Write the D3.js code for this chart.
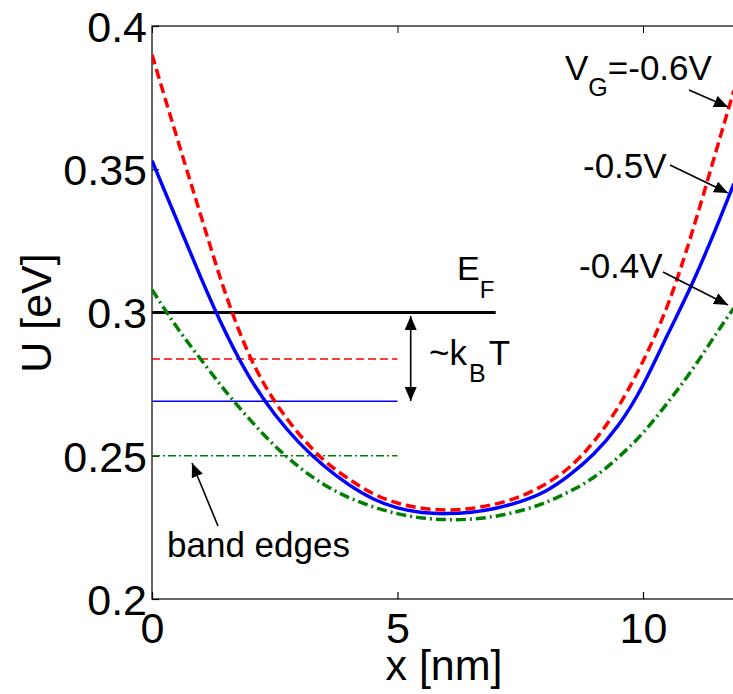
<!DOCTYPE html>
<html>
<head>
<meta charset="utf-8">
<script src="https://cdn.jsdelivr.net/npm/d3@7"></script>
<style>
  body { margin: 0; background: #fff; }
  svg { display: block; font-family: "Liberation Sans", Arial, sans-serif; }
</style>
</head>
<body>
<div id="chart"></div>
<script>
// x positions [nm] and band profiles U [eV]
const xNm = [0, 0.5, 1, 1.5, 2, 2.5, 3, 3.5, 4, 4.5, 5, 5.5, 6, 6.5, 7, 7.5, 8, 8.5, 9, 9.5, 10, 10.5, 11, 11.5, 11.85];
const uVg06 = [0.390, 0.3615, 0.3335, 0.3065, 0.2845, 0.2690, 0.2575, 0.2485, 0.2420, 0.2368, 0.2335, 0.2317, 0.2311, 0.2316, 0.2332, 0.2358, 0.2400, 0.2460, 0.2550, 0.2672, 0.2830, 0.3025, 0.3280, 0.3570, 0.3775];
const uVg05 = [0.353, 0.3325, 0.3120, 0.2930, 0.2770, 0.2645, 0.2545, 0.2465, 0.2400, 0.2350, 0.2318, 0.2302, 0.2298, 0.2303, 0.2317, 0.2340, 0.2375, 0.2432, 0.2507, 0.2607, 0.2747, 0.2922, 0.3100, 0.3300, 0.3450];
const uVg04 = [0.308, 0.2950, 0.2835, 0.2725, 0.2625, 0.2535, 0.2460, 0.2400, 0.2355, 0.2322, 0.2298, 0.2283, 0.2277, 0.2279, 0.2289, 0.2308, 0.2336, 0.2375, 0.2425, 0.2495, 0.2580, 0.2685, 0.2800, 0.2928, 0.3015];

// horizontal levels: Fermi level and the three band edges
const levelU = [0.3, 0.2838, 0.269, 0.25];
const levelEnd = [7, 5, 5, 5];

const xTicks = [0, 5, 10];
const yTicks = [0.2, 0.25, 0.3, 0.35, 0.4];

const width = 733, height = 694;
const mLeft = 152, mTop = 26, mBottom = 599;

const x = d3.scaleLinear().domain([0, 12]).range([mLeft, mLeft + 12 * 49.1]);
const y = d3.scaleLinear().domain([0.2, 0.4]).range([mBottom, mTop]);

const svg = d3.select("#chart").append("svg")
  .attr("width", width)
  .attr("height", height);

// arrow heads
const defs = svg.append("defs");
defs.append("marker")
  .attr("id", "head")
  .attr("markerUnits", "userSpaceOnUse")
  .attr("viewBox", "0 0 14 12")
  .attr("markerWidth", 14).attr("markerHeight", 12)
  .attr("refX", 14).attr("refY", 6)
  .attr("orient", "auto-start-reverse")
  .append("path").attr("d", "M0,0L14,6L0,12Z").attr("fill", "#000");

const clip = defs.append("clipPath").attr("id", "plot");
clip.append("rect").attr("x", mLeft).attr("y", mTop).attr("width", width - mLeft).attr("height", mBottom - mTop);

// frame
svg.append("rect")
  .attr("x", mLeft).attr("y", mTop)
  .attr("width", x(12) - mLeft).attr("height", mBottom - mTop)
  .attr("fill", "none").attr("stroke", "#000").attr("stroke-width", 1.2);

const xAxis = svg.append("g")
  .attr("transform", `translate(0,${mBottom})`)
  .call(d3.axisBottom(x).tickValues(xTicks).tickSize(-7).tickSizeOuter(0).tickPadding(13).tickFormat(d3.format("d")));
svg.append("g")
  .attr("transform", `translate(0,${mTop})`)
  .call(d3.axisTop(x).tickValues(xTicks).tickSize(-7).tickSizeOuter(0).tickFormat(""));
const yAxis = svg.append("g")
  .attr("transform", `translate(${mLeft},0)`)
  .call(d3.axisLeft(y).tickValues(yTicks).tickSize(-7).tickSizeOuter(0).tickPadding(5).tickFormat(d => String(+d.toFixed(2))));

[xAxis, yAxis].forEach(g => {
  g.selectAll("text").attr("font-size", 43).attr("font-family", "Liberation Sans, Arial, sans-serif").attr("fill", "#000");
  g.selectAll("line").attr("stroke-width", 1.2);
});
yAxis.selectAll("text").attr("dy", "0.36em");
svg.selectAll(".domain").remove();

// axis labels
svg.append("text")
  .attr("x", 444).attr("y", 680)
  .attr("text-anchor", "middle")
  .attr("font-size", 43)
  .text("x [nm]");
svg.append("text")
  .attr("transform", "translate(51,313) rotate(-90)")
  .attr("text-anchor", "middle")
  .attr("font-size", 43)
  .text("U [eV]");

const plot = svg.append("g").attr("clip-path", "url(#plot)");

// levels
const levelStyle = [
  { color: "#000", w: 3, dash: null },
  { color: "#ff0000", w: 1.5, dash: "8,4" },
  { color: "#0000ff", w: 1.5, dash: null },
  { color: "#008000", w: 1.5, dash: "8,3,2,3" }
];
plot.selectAll(".level")
  .data(levelU)
  .enter().append("line")
  .attr("class", "level")
  .attr("x1", x(0)).attr("x2", (d, i) => x(levelEnd[i]))
  .attr("y1", d => y(d)).attr("y2", d => y(d))
  .attr("stroke", (d, i) => levelStyle[i].color)
  .attr("stroke-width", (d, i) => levelStyle[i].w)
  .attr("stroke-dasharray", (d, i) => levelStyle[i].dash);

// band profiles
const series = [
  { u: uVg04, color: "#008000", dash: "10,4,2,4" },
  { u: uVg05, color: "#0000ff", dash: null },
  { u: uVg06, color: "#ff0000", dash: "10,5" }
];
const line = d3.line()
  .x((d, i) => x(xNm[i]))
  .y(d => y(d))
  .curve(d3.curveNatural);

plot.selectAll(".band")
  .data(series)
  .enter().append("path")
  .attr("class", "band")
  .attr("d", d => line(d.u))
  .attr("fill", "none")
  .attr("stroke", d => d.color)
  .attr("stroke-width", 3.5)
  .attr("stroke-dasharray", d => d.dash);

// annotations
function arrow(x1, y1, x2, y2) {
  svg.append("line")
    .attr("x1", x1).attr("y1", y1).attr("x2", x2).attr("y2", y2)
    .attr("stroke", "#000").attr("stroke-width", 1.6)
    .attr("marker-end", "url(#head)");
}

const ef = svg.append("text").attr("x", 457).attr("y", 280).attr("font-size", 34);
ef.append("tspan").text("E");
ef.append("tspan").attr("dy", 18).attr("font-size", 24).text("F");

const kt = svg.append("text").attr("x", 429).attr("y", 365).attr("font-size", 35);
kt.append("tspan").text("~k");
kt.append("tspan").attr("dx", 2).attr("dy", 17).attr("font-size", 25).text("B");
kt.append("tspan").attr("dx", 3).attr("dy", -17).text("T");
arrow(410.7, 358, 410.7, 316);
arrow(410.7, 358, 410.7, 401);

const vg = svg.append("text").attr("x", 565).attr("y", 80).attr("font-size", 35);
vg.append("tspan").text("V");
vg.append("tspan").attr("dy", 16).attr("font-size", 25).text("G");
vg.append("tspan").attr("dy", -16).text("=-0.6V");
arrow(689, 90, 728, 107);

svg.append("text").attr("x", 583).attr("y", 178).attr("font-size", 35).text("-0.5V");
arrow(670, 165, 728, 193);

svg.append("text").attr("x", 579).attr("y", 278).attr("font-size", 35).text("-0.4V");
arrow(663, 272, 728, 305);

svg.append("text").attr("x", 167).attr("y", 557).attr("font-size", 35).text("band edges");
arrow(218, 526, 192, 463);
</script>
</body>
</html>
